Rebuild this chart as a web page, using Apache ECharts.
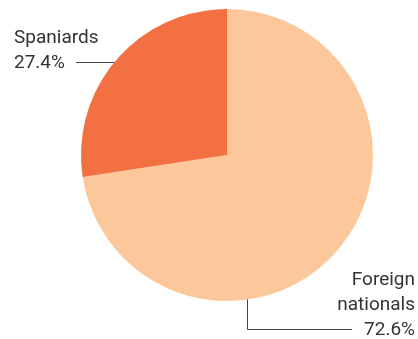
<!DOCTYPE html>
<html>
<head>
<meta charset="utf-8">
<script src="https://cdn.jsdelivr.net/npm/echarts@6/dist/echarts.min.js"></script>
<style>
  html, body { margin: 0; padding: 0; background: #fff; }
  #chart { width: 418px; height: 339px; }
</style>
</head>
<body>
<div id="chart"></div>
<script>
// Population shares by nationality
const categories = ['Foreign\nnationals', 'Spaniards'];
const shares = [72.6, 27.4];
const colors = ['#FCC89B', '#F37042'];

const chart = echarts.init(document.getElementById('chart'));

chart.setOption({
  animation: false,
  series: [{
    type: 'pie',
    center: [227, 155],
    radius: 146,
    startAngle: 90,
    clockwise: true,
    data: categories.map((name, i) => ({
      name: name,
      value: shares[i],
      itemStyle: { color: colors[i] }
    })),
    label: {
      show: true,
      formatter: p => p.name + '\n' + p.value.toFixed(1) + '%',
      color: '#333333',
      fontFamily: 'Roboto',
      fontSize: 19,
      lineHeight: 25,
      overflow: 'none',
      width: 200
    },
    labelLine: {
      show: true,
      lineStyle: { color: '#444444', width: 1 }
    },
    labelLayout: function (params) {
      if (params.dataIndex === 1) {
        return {
          x: 14, y: 51, align: 'left', verticalAlign: 'middle',
          labelLinePoints: [[126, 62.5], [101, 62.5], [76, 62.5]]
        };
      }
      return {
        x: 415, y: 305, align: 'right', verticalAlign: 'middle',
        labelLinePoints: [[247.5, 283], [247.5, 329.5], [352, 329.5]]
      };
    },
    emphasis: { disabled: true }
  }]
});
</script>
</body>
</html>
